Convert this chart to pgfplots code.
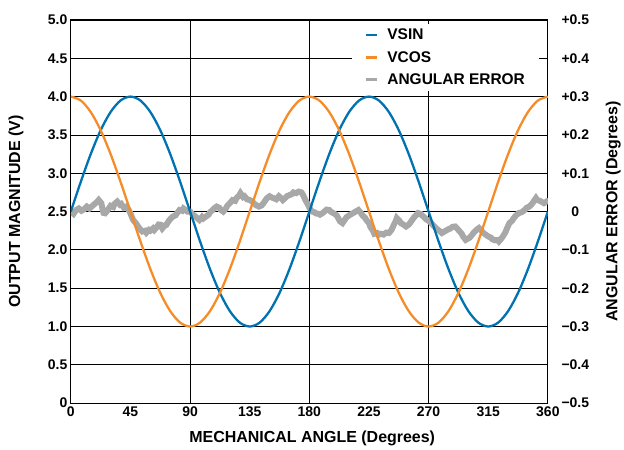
\documentclass[border=0pt]{standalone}
\usepackage{fontspec}
\setmainfont{Liberation Sans}
\usepackage{pgfplots}
\pgfplotsset{compat=1.18}
\usepackage{pgfplotstable}

\definecolor{sinblue}{RGB}{0,114,178}
\definecolor{cosorange}{RGB}{245,140,40}
\definecolor{errgray}{RGB}{168,168,168}

% sine/cosine outputs, read every 7.5 degrees
\pgfplotstableread{
ang vsin vcos
0 2.500 4.000
7.5 2.888 3.949
15 3.250 3.799
22.5 3.561 3.561
30 3.799 3.250
37.5 3.949 2.888
45 4.000 2.500
52.5 3.949 2.112
60 3.799 1.750
67.5 3.561 1.439
75 3.250 1.201
82.5 2.888 1.051
90 2.500 1.000
97.5 2.112 1.051
105 1.750 1.201
112.5 1.439 1.439
120 1.201 1.750
127.5 1.051 2.112
135 1.000 2.500
142.5 1.051 2.888
150 1.201 3.250
157.5 1.439 3.561
165 1.750 3.799
172.5 2.112 3.949
180 2.500 4.000
187.5 2.888 3.949
195 3.250 3.799
202.5 3.561 3.561
210 3.799 3.250
217.5 3.949 2.888
225 4.000 2.500
232.5 3.949 2.112
240 3.799 1.750
247.5 3.561 1.439
255 3.250 1.201
262.5 2.888 1.051
270 2.500 1.000
277.5 2.112 1.051
285 1.750 1.201
292.5 1.439 1.439
300 1.201 1.750
307.5 1.051 2.112
315 1.000 2.500
322.5 1.051 2.888
330 1.201 3.250
337.5 1.439 3.561
345 1.750 3.799
352.5 2.112 3.949
360 2.500 4.000
}\sigtable

% angular error in degrees
\pgfplotstableread{
ang err
0 0.000
2 -0.006
4 0.004
6 0.008
8 0.002
10 0.006
12 0.013
14 0.008
16 0.014
18 0.020
20 0.026
21 0.030
23 0.022
24 0.004
25 -0.008
27 0.000
29 0.010
30 0.015
32 0.012
33 0.020
35 0.026
37 0.018
38 0.020
40 0.010
42 0.013
44 0.002
45 -0.005
47 -0.022
49 -0.030
50 -0.035
52 -0.045
54 -0.052
56 -0.050
57 -0.055
59 -0.048
60 -0.050
62 -0.044
63 -0.048
65 -0.040
67 -0.030
68 -0.038
69 -0.044
71 -0.036
72 -0.035
74 -0.024
75 -0.020
77 -0.013
79 -0.010
80 -0.005
82 0.004
84 0.002
85 0.008
87 0.003
88 0.000
90 0.000
92 -0.008
93 -0.010
95 -0.016
97 -0.022
99 -0.014
100 -0.018
102 -0.013
104 -0.008
105 -0.002
107 0.004
108 0.008
110 0.013
112 0.010
113 0.005
115 0.000
117 0.008
118 0.015
120 0.022
122 0.030
124 0.028
125 0.035
127 0.042
128 0.048
130 0.038
131 0.040
133 0.032
135 0.030
137 0.026
138 0.022
140 0.016
142 0.013
144 0.016
145 0.020
147 0.030
148 0.035
150 0.040
152 0.036
153 0.035
155 0.032
157 0.040
159 0.034
160 0.030
162 0.036
163 0.040
165 0.043
167 0.046
168 0.050
170 0.048
172 0.052
174 0.050
175 0.045
177 0.030
179 0.018
180 0.010
182 0.000
184 -0.002
185 -0.005
187 -0.006
188 -0.008
190 -0.004
192 0.002
193 0.005
195 0.004
196 0.000
198 -0.004
200 -0.008
201 -0.012
203 -0.025
205 -0.030
207 -0.020
208 -0.015
210 -0.010
211 -0.008
213 -0.004
214 -0.002
216 0.002
217 0.004
219 -0.004
220 -0.010
222 -0.016
223 -0.022
225 -0.030
226 -0.040
228 -0.050
229 -0.058
231 -0.056
232 -0.061
234 -0.058
236 -0.060
238 -0.055
240 -0.056
242 -0.048
243 -0.040
245 -0.026
246 -0.017
248 -0.024
249 -0.030
251 -0.034
253 -0.039
255 -0.034
256 -0.030
258 -0.020
259 -0.015
261 -0.008
262 -0.004
264 -0.006
265 -0.010
267 -0.016
268 -0.020
270 -0.024
272 -0.030
274 -0.038
276 -0.045
278 -0.050
280 -0.056
282 -0.052
283 -0.050
285 -0.046
286 -0.045
288 -0.040
290 -0.039
292 -0.046
293 -0.050
295 -0.058
296 -0.065
298 -0.074
300 -0.070
301 -0.068
303 -0.060
304 -0.055
306 -0.048
308 -0.043
310 -0.050
311 -0.055
313 -0.060
315 -0.065
317 -0.068
318 -0.072
320 -0.075
322 -0.074
323 -0.078
325 -0.070
326 -0.065
328 -0.054
329 -0.045
331 -0.030
333 -0.024
334 -0.018
336 -0.010
338 -0.004
340 -0.002
341 0.000
343 0.006
344 0.010
346 0.013
348 0.020
349 0.025
351 0.035
352 0.030
354 0.028
356 0.024
357 0.022
359 0.026
360 0.022
}\errtable

\begin{document}
\begin{tikzpicture}
\pgfplotsset{
  base/.style={
    width=478bp, height=384bp, scale only axis,
    xmin=0, xmax=360,
    major tick length=0pt,
    /pgf/number format/assume math mode=true,
    tick label style={font=\fontsize{14bp}{16bp}\selectfont\bfseries},
    label style={font=\fontsize{16bp}{18bp}\selectfont\bfseries},
  }
}
% left axis with grid
\begin{axis}[base, name=ax,
  ymin=0, ymax=5,
  axis line style={black, line width=1.2bp},
  xtick={0,90,180,270,360},
  xticklabels={0,90,180,270,360},
  extra x ticks={45,135,225,315},
  extra x tick labels={45,135,225,315},
  extra x tick style={grid=none},
  ytick={0,0.5,1,1.5,2,2.5,3,3.5,4,4.5,5},
  yticklabels={0,0.5,1.0,1.5,2.0,2.5,3.0,3.5,4.0,4.5,5.0},
  grid=major,
  major grid style={black, line width=0.8bp},
  xlabel={MECHANICAL ANGLE (Degrees)},
  ylabel={OUTPUT MAGNITUDE (V)},
  xlabel style={at={(axis description cs:0.506,-0.093)}, anchor=center},
  ylabel style={at={(axis description cs:-0.115,0.5)}, anchor=center},
]
\end{axis}
% right axis: angular error
\begin{axis}[base,
  ymin=-0.5, ymax=0.5,
  axis y line*=right, axis x line=none,
  axis line style={black, line width=1.2bp},
  ytick={-0.5,-0.4,-0.3,-0.2,-0.1,0,0.1,0.2,0.3,0.4,0.5},
  yticklabels={−0.5,−0.4,−0.3,−0.2,−0.1,0,+0.1,+0.2,+0.3,+0.4,+0.5},
  yticklabel style={text width=34bp, align=center, xshift=7bp},
  ylabel={ANGULAR ERROR (Degrees)},
  ylabel style={at={(axis description cs:1.137,0.5)}, anchor=center},
]
\addplot[errgray, line width=6bp, line join=miter, miter limit=2] table[x=ang, y=err] {\errtable};
\end{axis}
% sine and cosine outputs
\begin{axis}[base, hide axis,
  ymin=0, ymax=5,
  legend style={at={(0.590,0.990)}, anchor=north west, draw=none, fill=white,
    font=\fontsize{15.5bp}{17bp}\selectfont\bfseries, row sep=6bp,
    inner xsep=12bp, inner ysep=3bp,
    /tikz/every odd column/.append style={column sep=7bp}},
  legend cell align=left,
  legend image code/.code={\draw[#1] (0bp,0bp) -- (11bp,0bp);},
]
\addplot[sinblue, line width=2.3bp, smooth] table[x=ang, y=vsin] {\sigtable};
\addlegendentry{VSIN}
\addplot[cosorange, line width=2.3bp, smooth] table[x=ang, y=vcos] {\sigtable};
\addlegendentry{VCOS}
\addlegendimage{errgray, line width=3bp}
\addlegendentry{ANGULAR ERROR}
\end{axis}
\path ([xshift=-71bp,yshift=-40bp]ax.south west) rectangle ([xshift=75bp,yshift=20bp]ax.north east);
\end{tikzpicture}
\end{document}
